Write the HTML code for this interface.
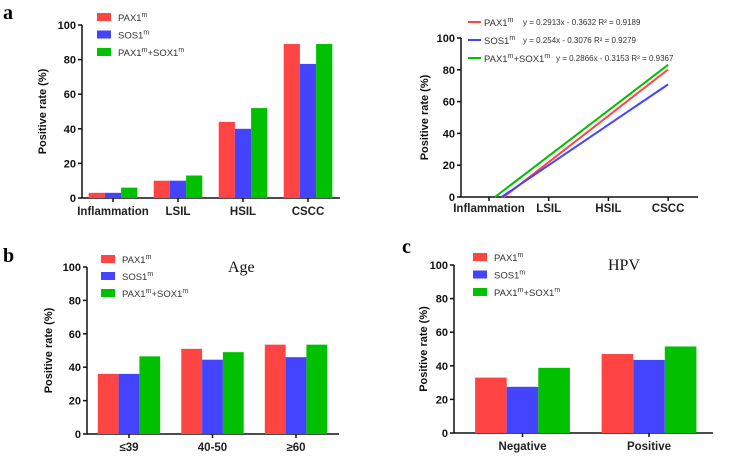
<!DOCTYPE html>
<html><head><meta charset="utf-8">
<style>
body{margin:0;background:#fff;}
svg{display:block;font-family:"Liberation Sans",sans-serif;}
.tk{font-size:11px;font-weight:bold;fill:#111;}
.cat{font-size:11.5px;font-weight:bold;fill:#222;}
.yt{font-size:11px;font-weight:bold;fill:#111;}
.lg{font-size:9.5px;fill:#333;}
.eq{font-size:8px;fill:#333;}
.pl{font-family:"Liberation Serif",serif;font-weight:bold;font-size:20px;fill:#000;}
.ttl{font-family:"Liberation Serif",serif;font-size:16px;fill:#111;}
</style></head>
<body>
<svg id="fig" width="750" height="465" viewBox="0 0 750 465">
<text class="pl" x="3" y="19">a</text>
<text class="pl" x="3" y="262">b</text>
<text class="pl" x="402" y="253">c</text>
<text class="ttl" x="228" y="272">Age</text>
<text class="ttl" x="608" y="270">HPV</text>
</svg>
<script>
const seriesNames=['PAX1','SOS1','PAX1+SOX1'];
const colors=['#ff4444','#4444ff','#00c000'];
const yTicks=[0,20,40,60,80,100];
// panel a (bars)
const catsA=['Inflammation','LSIL','HSIL','CSCC'];
const paxA=[3,10,44,89];
const sosA=[3,10,40,77.5];
const bothA=[6,13,52,89];
// panel a right (trend lines)
const slopes=[0.2913,0.254,0.2866];
const intercepts=[-0.3632,-0.3076,-0.3153];
const eqLabels=['y = 0.2913x - 0.3632 R² = 0.9189','y = 0.254x - 0.3076 R² = 0.9279','y = 0.2866x - 0.3153 R² = 0.9367'];
// panel b
const catsB=['≤39','40-50','≥60'];
const paxB=[36,51,53.5];
const sosB=[36,44.5,46];
const bothB=[46.5,49,53.5];
// panel c
const catsC=['Negative','Positive'];
const paxC=[33,47];
const sosC=[27.5,43.5];
const bothC=[38.8,51.5];

const NS='http://www.w3.org/2000/svg';
const svg=document.getElementById('fig');
function mk(tag,attrs,parent){const e=document.createElementNS(NS,tag);for(const k in attrs)e.setAttribute(k,attrs[k]);(parent||svg).appendChild(e);return e;}

function legendText(g,x,y,i,cls){
  const t=mk('text',{x:x,y:y,class:cls||'lg'},g);
  const parts=i===0?[['PAX1',0],['m',1]]:i===1?[['SOS1',0],['m',1]]:[['PAX1',0],['m',1],['+SOX1',0],['m',1]];
  parts.forEach(p=>{const s=mk('tspan',{},t);s.textContent=p[0];if(p[1]){s.setAttribute('dy','-4');s.setAttribute('font-size','7');}else if(t.childNodes.length>1){s.setAttribute('dy','4');}});
  return t;
}

function axes(g,x0,x1,yTop,y0,titleX,name){
  const ys=v=>y0-(y0-yTop)*v/100;
  const ax=mk('line',{x1:x0,y1:yTop,x2:x0,y2:y0,stroke:'#111','stroke-width':1.5},g);
  
  
  const bx=mk('line',{x1:x0,y1:y0,x2:x1,y2:y0,stroke:'#111','stroke-width':1.5},g);
  
  
  yTicks.forEach(v=>{
    mk('line',{x1:x0-4,y1:ys(v),x2:x0,y2:ys(v),stroke:'#111','stroke-width':1.5},g);
    const t=mk('text',{x:x0-6,y:ys(v)+4,'text-anchor':'end',class:'tk'},g);
    t.textContent=v;
    
    
  });
  const yc=(yTop+y0)/2;
  const tt=mk('text',{x:titleX,y:yc,transform:`rotate(-90 ${titleX} ${yc})`,'text-anchor':'middle',class:'yt'},g);
  tt.textContent='Positive rate (%)';
  
  
  return ys;
}

function barChart(name,cats,series,o){
  const g=mk('g',{});
  
  
  const ys=axes(g,o.x0,o.x1,o.yTop,o.y0,o.titleX,name);
  cats.forEach((c,ci)=>{
    const cx=o.c0+ci*o.step;
    series.forEach((s,si)=>{
      const v=s[ci];
      const r=mk('rect',{x:cx-1.5*o.bw+si*o.bw,y:ys(v),width:o.bw,height:o.y0-ys(v),fill:colors[si]},g);
      
      
    });
    mk('line',{x1:cx,y1:o.y0,x2:cx,y2:o.y0+4,stroke:'#111','stroke-width':1.5},g);
    const t=mk('text',{x:cx,y:o.y0+17,'text-anchor':'middle',class:'cat'},g);
    t.textContent=c;
    
    
  });
  seriesNames.forEach((n,i)=>{
    const r=mk('rect',{x:o.lx,y:o.ly+i*o.ld,width:14,height:8,fill:colors[i]},g);
    
    
    const t=legendText(g,o.lx+21,o.ly+i*o.ld+8,i);
    
    
  });
}

barChart('chart-a-bars',catsA,[paxA,sosA,bothA],{x0:82,x1:340,yTop:25,y0:198,titleX:46,c0:113,step:65,bw:16.2,lx:97,ly:13,ld:17.5});
barChart('chart-b-age',catsB,[paxB,sosB,bothB],{x0:87,x1:339,yTop:267,y0:434,titleX:52,c0:129,step:83.5,bw:20.8,lx:101,ly:255,ld:17});
barChart('chart-c-hpv',catsC,[paxC,sosC,bothC],{x0:454,x1:713,yTop:265,y0:433,titleX:427,c0:522.5,step:126.5,bw:31.6,lx:473,ly:253,ld:17.5});

// line chart
(function(){
  const g=mk('g',{});
  
  
  const x0=461,x1=698,yTop=38,y0=197;
  const ys=axes(g,x0,x1,yTop,y0,428,'trend');
  const xs=k=>489+(k-1)*59.7;
  catsA.forEach((c,ci)=>{
    const cx=xs(ci+1);
    mk('line',{x1:cx,y1:y0,x2:cx,y2:y0+4,stroke:'#111','stroke-width':1.5},g);
    const t=mk('text',{x:cx,y:y0+15,'text-anchor':'middle',class:'cat'},g);
    t.textContent=c;
    
    
  });
  slopes.forEach((a,i)=>{
    const b=intercepts[i];
    const xs0=-b/a, xe=4;
    const l=mk('line',{x1:xs(xs0),y1:ys(0),x2:xs(xe),y2:ys((a*xe+b)*100),stroke:colors[i],'stroke-width':2},g);
    
    
  });
  const ly=[22,40,58];
  seriesNames.forEach((n,i)=>{
    const l=mk('line',{x1:468,y1:ly[i],x2:481,y2:ly[i],stroke:colors[i],'stroke-width':2},g);
    
    
    const t=legendText(g,484,ly[i]+4,i);
    
    
    const e=mk('text',{x:i===2?556:523,y:ly[i]+3,class:'eq'},g);
    e.textContent=eqLabels[i];
    
    
  });
})();
</script>
</body></html>
